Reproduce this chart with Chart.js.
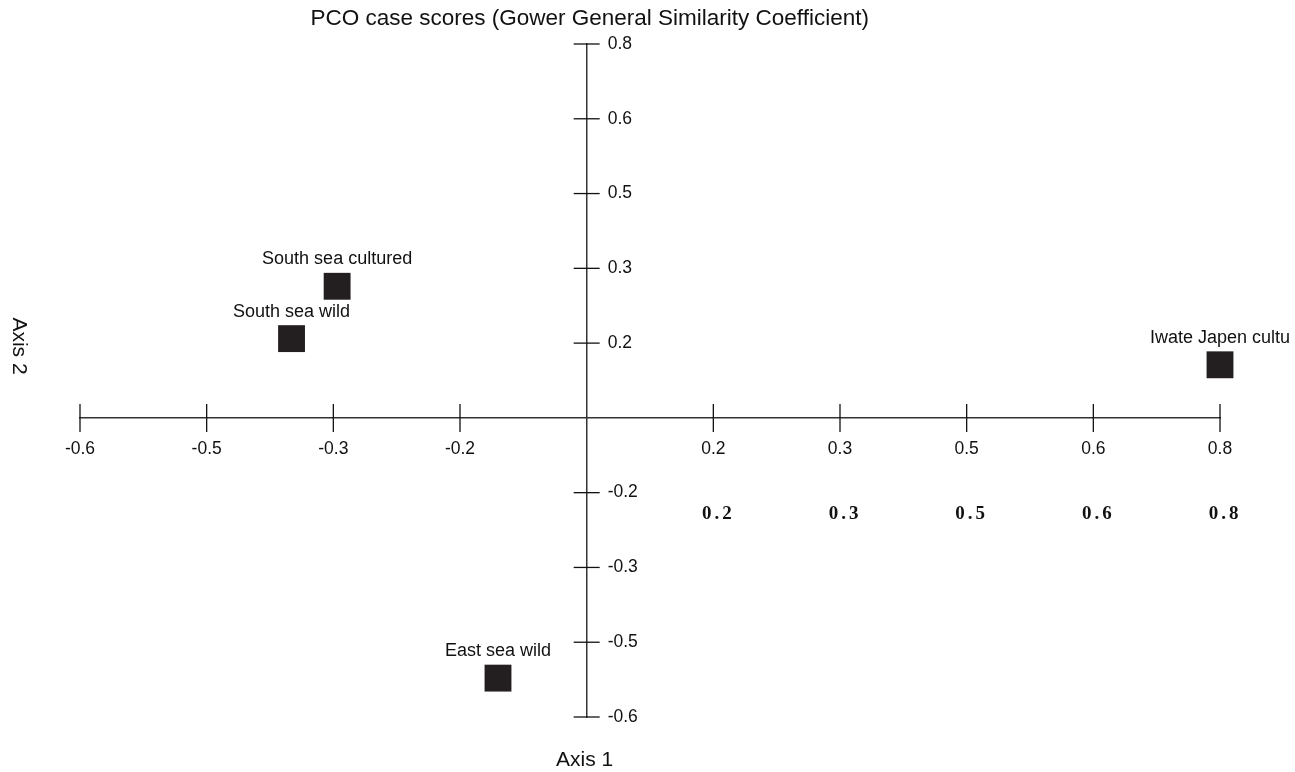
<!DOCTYPE html>
<html lang="en">
<head>
<meta charset="UTF-8" />
<title>PCO case scores</title>
<script src="https://cdn.jsdelivr.net/npm/chart.js"></script>
<style>
  body { margin: 0; background: #fff; }
  #wrap { width: 1295px; height: 772px; }
</style>
</head>
<body>
<div id="wrap"><canvas id="pco"></canvas></div>
<script>
// case scores, measured in tick steps from the origin
// (the ticks are evenly spaced but carry uneven labels)
const caseNames = ['South sea cultured', 'South sea wild', 'Iwate Japen cultu', 'East sea wild'];
const axis1Scores = [-1.97, -2.33, 5.0, -0.70];
const axis2Scores = [1.76, 1.06, 0.71, -3.48];

// one label per tick step, from -4 to 5
const xTickLabels = ['-0.6', '-0.5', '-0.3', '-0.2', '', '0.2', '0.3', '0.5', '0.6', '0.8'];
const yTickLabels = ['-0.6', '-0.5', '-0.3', '-0.2', '', '0.2', '0.3', '0.5', '0.6', '0.8'];
// the stray bold row of labels under the positive x ticks
const echoLabels = ['', '', '', '', '', '0.2', '0.3', '0.5', '0.6', '0.8'];
const echoRowAt = -1.27;

const SANS = '"Liberation Sans", Arial, sans-serif';

const crossAxes = {
  id: 'crossAxes',
  afterDraw(chart) {
    const ctx = chart.ctx;
    const xs = chart.scales.x, ys = chart.scales.y;
    const ox = xs.getPixelForValue(0), oy = ys.getPixelForValue(0);
    ctx.save();
    ctx.strokeStyle = '#111';
    ctx.lineWidth = 1.3;
    ctx.fillStyle = '#111';
    ctx.font = '17.5px ' + SANS;

    // x ticks cross the axis, labels below
    ctx.textAlign = 'center';
    ctx.textBaseline = 'middle';
    xs.ticks.forEach((t, i) => {
      if (!xTickLabels[i]) return;
      const px = xs.getPixelForValue(t.value);
      ctx.beginPath();
      ctx.moveTo(px, oy - 14);
      ctx.lineTo(px, oy + 14);
      ctx.stroke();
      ctx.fillText(xTickLabels[i], px, oy + 31);
    });

    // y ticks cross the axis, labels to the right
    ctx.textAlign = 'left';
    ys.ticks.forEach((t, i) => {
      if (!yTickLabels[i]) return;
      const py = ys.getPixelForValue(t.value);
      ctx.beginPath();
      ctx.moveTo(ox - 13, py);
      ctx.lineTo(ox + 13, py);
      ctx.stroke();
      ctx.fillText(yTickLabels[i], ox + 21, py);
    });

    // bold serif echo row
    ctx.font = 'bold 19px "Liberation Serif", "Times New Roman", serif';
    ctx.letterSpacing = '3px';
    ctx.textAlign = 'center';
    const ey = ys.getPixelForValue(echoRowAt);
    xs.ticks.forEach((t, i) => {
      if (!echoLabels[i]) return;
      ctx.fillText(echoLabels[i], xs.getPixelForValue(t.value) + 5, ey + 1);
    });
    ctx.letterSpacing = '0px';

    // case names above the markers
    ctx.font = '18px ' + SANS;
    ctx.textBaseline = 'middle';
    chart.getDatasetMeta(0).data.forEach((pt, i) => {
      ctx.fillText(caseNames[i], pt.x, pt.y - 27);
    });

    // titles
    ctx.font = '22.5px ' + SANS;
    ctx.fillText('PCO case scores (Gower General Similarity Coefficient)', ox + 3, 19);
    ctx.font = '21px ' + SANS;
    ctx.fillText('Axis 1', ox - 2, 760);
    ctx.translate(19, 346);
    ctx.rotate(Math.PI / 2);
    ctx.fillText('Axis 2', 0, 0);
    ctx.restore();
  }
};

new Chart(document.getElementById('pco'), {
  type: 'scatter',
  data: {
    datasets: [{
      label: 'cases',
      data: axis1Scores.map((v, i) => ({ x: v, y: axis2Scores[i] })),
      pointStyle: 'rect',
      pointRadius: 19,
      pointHoverRadius: 19,
      backgroundColor: '#231f20',
      borderWidth: 0,
      clip: false
    }]
  },
  options: {
    responsive: true,
    maintainAspectRatio: false,
    animation: false,
    layout: { padding: { left: 80, right: 75, top: 44, bottom: 55 } },
    plugins: { legend: { display: false }, title: { display: false }, tooltip: { enabled: false } },
    scales: {
      x: {
        type: 'linear', min: -4, max: 5,
        position: { y: 0 },
        ticks: { display: false, stepSize: 1 },
        grid: { display: false },
        border: { display: true, color: '#333', width: 1.5 }
      },
      y: {
        type: 'linear', min: -4, max: 5,
        position: { x: 0 },
        ticks: { display: false, stepSize: 1 },
        grid: { display: false },
        border: { display: true, color: '#333', width: 1.5 }
      }
    }
  },
  plugins: [crossAxes]
});
</script>
</body>
</html>
